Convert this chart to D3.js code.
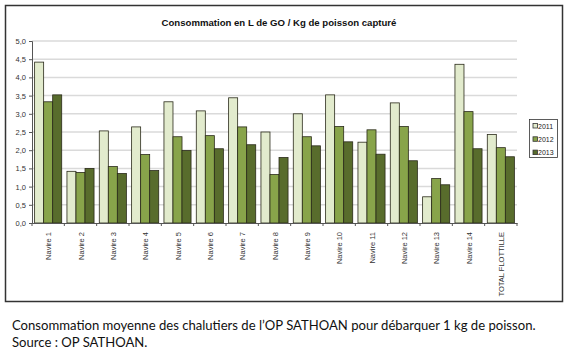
<!DOCTYPE html>
<html>
<head>
<meta charset="utf-8">
<script src="https://cdn.jsdelivr.net/npm/d3@7"></script>
<style>
  body { margin: 0; background: #fff; }
  svg { display: block; }
</style>
</head>
<body>
<svg id="chart"></svg>
<script>
// Data
let categories = ["Navire 1", "Navire 2", "Navire 3", "Navire 4", "Navire 5", "Navire 6", "Navire 7",
  "Navire 8", "Navire 9", "Navire 10", "Navire 11", "Navire 12", "Navire 13", "Navire 14", "TOTAL FLOTTILLE"];
let years = ["2011", "2012", "2013"];
let v2011 = [4.42, 1.42, 2.53, 2.64, 3.33, 3.08, 3.44, 2.50, 3.00, 3.52, 2.22, 3.30, 0.72, 4.36, 2.43];
let v2012 = [3.33, 1.39, 1.55, 1.88, 2.37, 2.40, 2.64, 1.33, 2.37, 2.65, 2.56, 2.65, 1.22, 3.06, 2.07];
let v2013 = [3.52, 1.50, 1.36, 1.44, 1.99, 2.04, 2.15, 1.80, 2.12, 2.23, 1.89, 1.71, 1.05, 2.04, 1.82];
let yTicks = [0, 0.5, 1, 1.5, 2, 2.5, 3, 3.5, 4, 4.5, 5];

// Colors
let c2011 = "#e2ebcd";
let c2012 = "#88a44a";
let c2013 = "#586c2c";
let colors = [c2011, c2012, c2013];
let series = [v2011, v2012, v2013];

let width = 569, height = 354;
let svg = d3.select("#chart")
  .attr("width", width)
  .attr("height", height);

// outer frame
svg.append("rect")
  .attr("x", 5.5).attr("y", 5.5)
  .attr("width", 557).attr("height", 296)
  .attr("fill", "#fff")
  .attr("stroke", "#333")
  .attr("stroke-width", 1.5);

let pLeft = 32, pRight = 517, pTop = 41, pBottom = 223;

let xax = d3.scaleBand()
  .domain(categories)
  .range([pLeft, pRight]);
let xin = d3.scaleBand()
  .domain(years)
  .range([0, xax.bandwidth()])
  .paddingInner(0)
  .paddingOuter(0.29);
let yax = d3.scaleLinear()
  .domain([0, 5])
  .range([pBottom, pTop]);

// gridlines
svg.append("g")
  .selectAll("line")
  .data(yTicks.slice(1))
  .join("line")
    .attr("x1", pLeft).attr("x2", pRight)
    .attr("y1", d => yax(d)).attr("y2", d => yax(d))
    .attr("stroke", "#dadada")
    .attr("stroke-width", 1.5);

// bars
let groups = svg.append("g")
  .selectAll("g")
  .data(categories)
  .join("g")
    .attr("transform", d => `translate(${xax(d)},0)`);

groups.selectAll("rect")
  .data((d, i) => years.map((y, j) => ({year: y, value: series[j][i], color: colors[j]})))
  .join("rect")
    .attr("x", d => xin(d.year))
    .attr("y", d => yax(d.value))
    .attr("width", xin.bandwidth())
    .attr("height", d => yax(0) - yax(d.value))
    .attr("fill", d => d.color)
    .attr("stroke", "#2a2a1a")
    .attr("stroke-width", 0.8);

// y axis
let yAxis = d3.axisLeft(yax)
  .tickValues(yTicks)
  .tickSize(3)
  .tickFormat(d => d3.format(".1f")(d).replace(".", ","));
svg.append("g")
  .attr("transform", `translate(${pLeft},0)`)
  .call(yAxis)
  .call(g => g.select(".domain").attr("stroke", "#555"))
  .call(g => g.selectAll(".tick line").attr("stroke", "#555"))
  .call(g => g.selectAll("text")
    .attr("font-family", "Liberation Sans, Arial, sans-serif")
    .attr("font-size", 7.5)
    .attr("fill", "#333"));

// x axis
let xAxis = d3.axisBottom(xax)
  .tickSize(0)
  .tickFormat("");
svg.append("g")
  .attr("transform", `translate(0,${pBottom})`)
  .call(xAxis)
  .call(g => g.select(".domain").attr("stroke", "#555"));

// category separators
svg.append("g")
  .selectAll("line")
  .data(categories.map(c => xax(c)).concat([pRight]))
  .join("line")
    .attr("x1", d => d).attr("x2", d => d)
    .attr("y1", pBottom).attr("y2", pBottom + 3)
    .attr("stroke", "#555");

// category labels (rotated)
svg.append("g")
  .selectAll("text")
  .data(categories)
  .join("text")
    .attr("transform", d => `translate(${xax(d) + xax.bandwidth() / 2 + 3},${pBottom + 9}) rotate(-90)`)
    .attr("text-anchor", "end")
    .attr("font-family", "Liberation Sans, Arial, sans-serif")
    .attr("font-size", 7.5)
    .attr("fill", "#333")
    .text(d => d);

// title
svg.append("text")
  .attr("x", 279)
  .attr("y", 26)
  .attr("text-anchor", "middle")
  .attr("font-family", "Liberation Sans, Arial, sans-serif")
  .attr("font-weight", "bold")
  .attr("font-size", 9.6)
  .attr("fill", "#111")
  .text("Consommation en L de GO / Kg de poisson capturé");

// legend
let legend = svg.append("g");
legend.append("rect")
  .attr("x", 529.5).attr("y", 119.5)
  .attr("width", 28).attr("height", 38)
  .attr("fill", "#fff")
  .attr("stroke", "#333")
  .attr("stroke-width", 0.8);
let items = legend.selectAll("g")
  .data(years)
  .join("g")
    .attr("transform", (d, i) => `translate(533,${127 + i * 13.3})`);
items.append("rect")
  .attr("x", 0).attr("y", -3.5)
  .attr("width", 4.5).attr("height", 4.5)
  .attr("fill", (d, i) => colors[i])
  .attr("stroke", "#333")
  .attr("stroke-width", 0.8);
items.append("text")
  .attr("x", 5)
  .attr("y", 1.5)
  .attr("font-family", "Liberation Sans, Arial, sans-serif")
  .attr("font-size", 7)
  .attr("fill", "#222")
  .text(d => d);

// caption
let caption = ["Consommation moyenne des chalutiers de l’OP SATHOAN pour débarquer 1 kg de poisson.",
  "Source : OP SATHOAN."];
svg.append("g")
  .selectAll("text")
  .data(caption)
  .join("text")
    .attr("x", 12)
    .attr("y", (d, i) => 330 + i * 16.5)
    .attr("font-family", "Lato, Open Sans, sans-serif")
    .attr("font-size", 13.1)
    .attr("fill", "#111")
    .text(d => d);
</script>
</body>
</html>
